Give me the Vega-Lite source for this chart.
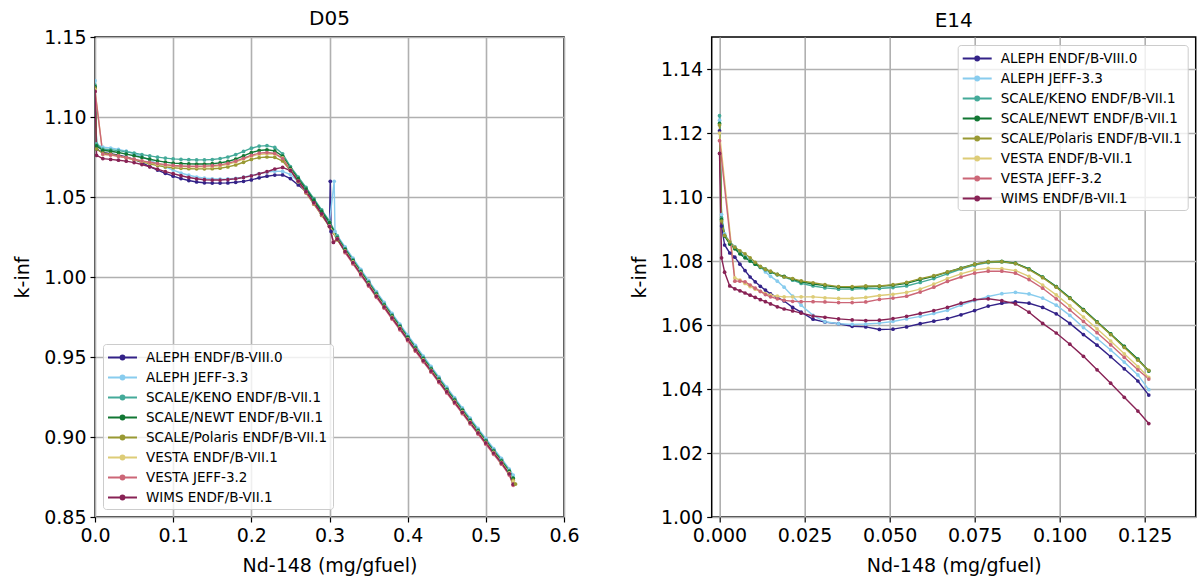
{
  "$schema": "https://vega.github.io/schema/vega-lite/v6.json",
  "padding": {"left": 12, "top": 8, "right": 5, "bottom": 5},
  "background": "white",
  "datasets": {
    "names": [
      {"k": "a", "name": "ALEPH ENDF/B-VIII.0"},
      {"k": "b", "name": "ALEPH JEFF-3.3"},
      {"k": "c", "name": "SCALE/KENO ENDF/B-VII.1"},
      {"k": "d", "name": "SCALE/NEWT ENDF/B-VII.1"},
      {"k": "e", "name": "SCALE/Polaris ENDF/B-VII.1"},
      {"k": "f", "name": "VESTA ENDF/B-VII.1"},
      {"k": "g", "name": "VESTA JEFF-3.2"},
      {"k": "h", "name": "WIMS ENDF/B-VII.1"}
    ],
    "d05": [
      {"x": 0, "a": 1.1186, "b": 1.1227, "c": 1.1200, "d": 1.1190, "e": 1.1180, "f": 1.1170, "g": 1.1160, "h": 1.1160},
      {"x": 0.002, "a": 1.0800, "b": 1.0830, "c": 1.0830, "d": 1.0820, "e": 1.0800, "h": 1.0760},
      {"x": 0.01, "a": 1.0778, "b": 1.0812, "c": 1.0800, "d": 1.0792, "e": 1.0775, "f": 1.0765, "g": 1.0768, "h": 1.0740},
      {"x": 0.02, "a": 1.0770, "b": 1.0806, "c": 1.0795, "d": 1.0786, "e": 1.0768, "f": 1.0762, "g": 1.0763, "h": 1.0735},
      {"x": 0.03, "a": 1.0762, "b": 1.0798, "c": 1.0790, "d": 1.0778, "e": 1.0758, "f": 1.0755, "g": 1.0755, "h": 1.0730},
      {"x": 0.04, "a": 1.0750, "b": 1.0786, "c": 1.0783, "d": 1.0768, "e": 1.0745, "f": 1.0745, "g": 1.0746, "h": 1.0724},
      {"x": 0.05, "a": 1.0735, "b": 1.0771, "c": 1.0775, "d": 1.0758, "e": 1.0732, "f": 1.0735, "g": 1.0736, "h": 1.0715},
      {"x": 0.06, "a": 1.0715, "b": 1.0752, "c": 1.0765, "d": 1.0747, "e": 1.0720, "f": 1.0724, "g": 1.0726, "h": 1.0703},
      {"x": 0.07, "a": 1.0690, "b": 1.0731, "c": 1.0757, "d": 1.0736, "e": 1.0708, "f": 1.0714, "g": 1.0717, "h": 1.0689},
      {"x": 0.08, "a": 1.0668, "b": 1.0708, "c": 1.0749, "d": 1.0726, "e": 1.0697, "f": 1.0705, "g": 1.0709, "h": 1.0674},
      {"x": 0.09, "a": 1.0648, "b": 1.0688, "c": 1.0743, "d": 1.0718, "e": 1.0688, "f": 1.0698, "g": 1.0702, "h": 1.0659},
      {"x": 0.10, "a": 1.0630, "b": 1.0668, "c": 1.0738, "d": 1.0712, "e": 1.0683, "f": 1.0693, "g": 1.0697, "h": 1.0646},
      {"x": 0.11, "a": 1.0615, "b": 1.0650, "c": 1.0735, "d": 1.0709, "e": 1.0679, "f": 1.0690, "g": 1.0694, "h": 1.0633},
      {"x": 0.12, "a": 1.0603, "b": 1.0636, "c": 1.0733, "d": 1.0707, "e": 1.0677, "f": 1.0688, "g": 1.0692, "h": 1.0622},
      {"x": 0.13, "a": 1.0594, "b": 1.0625, "c": 1.0732, "d": 1.0706, "e": 1.0676, "f": 1.0688, "g": 1.0692, "h": 1.0614},
      {"x": 0.14, "a": 1.0589, "b": 1.0618, "c": 1.0732, "d": 1.0706, "e": 1.0676, "f": 1.0688, "g": 1.0693, "h": 1.0608},
      {"x": 0.15, "a": 1.0587, "b": 1.0614, "c": 1.0734, "d": 1.0708, "e": 1.0677, "f": 1.0690, "g": 1.0696, "h": 1.0606},
      {"x": 0.16, "a": 1.0587, "b": 1.0612, "c": 1.0740, "d": 1.0713, "e": 1.0680, "f": 1.0695, "g": 1.0701, "h": 1.0606},
      {"x": 0.17, "a": 1.0588, "b": 1.0613, "c": 1.0750, "d": 1.0722, "e": 1.0688, "f": 1.0704, "g": 1.0710, "h": 1.0609},
      {"x": 0.18, "a": 1.0592, "b": 1.0617, "c": 1.0765, "d": 1.0737, "e": 1.0700, "f": 1.0718, "g": 1.0724, "h": 1.0614},
      {"x": 0.19, "a": 1.0598, "b": 1.0624, "c": 1.0785, "d": 1.0757, "e": 1.0717, "f": 1.0737, "g": 1.0742, "h": 1.0622},
      {"x": 0.20, "a": 1.0607, "b": 1.0634, "c": 1.0805, "d": 1.0777, "e": 1.0735, "f": 1.0755, "g": 1.0760, "h": 1.0632},
      {"x": 0.21, "a": 1.0620, "b": 1.0646, "c": 1.0818, "d": 1.0791, "e": 1.0746, "f": 1.0766, "g": 1.0774, "h": 1.0645},
      {"x": 0.22, "a": 1.0630, "b": 1.0656, "c": 1.0821, "d": 1.0795, "e": 1.0750, "f": 1.0770, "g": 1.0778, "h": 1.0658},
      {"x": 0.23, "a": 1.0637, "b": 1.0661, "c": 1.0810, "d": 1.0788, "e": 1.0748, "f": 1.0768, "g": 1.0772, "h": 1.0675},
      {"x": 0.24, "a": 1.0638, "b": 1.0660, "c": 1.0770, "d": 1.0755, "e": 1.0725, "f": 1.0745, "g": 1.0740, "h": 1.0685},
      {"x": 0.25, "a": 1.0615, "b": 1.0640, "c": 1.0690, "d": 1.0680, "e": 1.0665, "f": 1.0670, "g": 1.0668, "h": 1.0665},
      {"x": 0.26, "a": 1.0575, "b": 1.0595, "c": 1.0625, "d": 1.0615, "e": 1.0595, "f": 1.0600, "g": 1.0598, "h": 1.0600},
      {"x": 0.27, "a": 1.0535, "b": 1.0545, "c": 1.0560, "d": 1.0550, "e": 1.0525, "f": 1.0530, "g": 1.0528, "h": 1.0535},
      {"x": 0.28, "a": 1.0467, "b": 1.0480, "c": 1.0490, "d": 1.0480, "e": 1.0455, "f": 1.0460, "g": 1.0458, "h": 1.0465},
      {"x": 0.29, "a": 1.0397, "b": 1.0410, "c": 1.0420, "d": 1.0410, "e": 1.0385, "f": 1.0390, "g": 1.0388, "h": 1.0395},
      {"x": 0.30, "a": 1.0325, "b": 1.0345, "c": 1.0350, "d": 1.0340, "e": 1.0315, "f": 1.0320, "g": 1.0318, "h": 1.0315},
      {"x": 0.301, "a": 1.0598},
      {"x": 0.302, "a": 1.0285},
      {"x": 0.305, "g": 1.0220, "h": 1.0216},
      {"x": 0.306, "b": 1.0598},
      {"x": 0.307, "b": 1.0285},
      {"x": 0.31, "a": 1.0250, "b": 1.0258, "c": 1.0255, "d": 1.0245, "e": 1.0232, "f": 1.0236, "g": 1.0240, "h": 1.0236},
      {"x": 0.32, "a": 1.0180, "b": 1.0188, "c": 1.0178, "d": 1.0172, "e": 1.0158, "f": 1.0164, "g": 1.0152, "h": 1.0160},
      {"x": 0.33, "a": 1.0110, "b": 1.0118, "c": 1.0108, "d": 1.0102, "e": 1.0088, "f": 1.0094, "g": 1.0082, "h": 1.0090},
      {"x": 0.34, "a": 1.0040, "b": 1.0048, "c": 1.0038, "d": 1.0032, "e": 1.0018, "f": 1.0024, "g": 1.0012, "h": 1.0020},
      {"x": 0.35, "a": 0.9971, "b": 0.9979, "c": 0.9969, "d": 0.9963, "e": 0.9949, "f": 0.9955, "g": 0.9943, "h": 0.9951},
      {"x": 0.36, "a": 0.9901, "b": 0.9909, "c": 0.9899, "d": 0.9893, "e": 0.9879, "f": 0.9885, "g": 0.9873, "h": 0.9881},
      {"x": 0.37, "a": 0.9833, "b": 0.9841, "c": 0.9831, "d": 0.9825, "e": 0.9811, "f": 0.9817, "g": 0.9805, "h": 0.9813},
      {"x": 0.38, "a": 0.9765, "b": 0.9773, "c": 0.9763, "d": 0.9757, "e": 0.9743, "f": 0.9749, "g": 0.9737, "h": 0.9745},
      {"x": 0.39, "a": 0.9698, "b": 0.9706, "c": 0.9696, "d": 0.9690, "e": 0.9676, "f": 0.9682, "g": 0.9670, "h": 0.9678},
      {"x": 0.40, "a": 0.9630, "b": 0.9638, "c": 0.9628, "d": 0.9622, "e": 0.9608, "f": 0.9614, "g": 0.9602, "h": 0.9610},
      {"x": 0.41, "a": 0.9564, "b": 0.9572, "c": 0.9562, "d": 0.9556, "e": 0.9542, "f": 0.9548, "g": 0.9536, "h": 0.9544},
      {"x": 0.42, "a": 0.9498, "b": 0.9506, "c": 0.9496, "d": 0.9490, "e": 0.9476, "f": 0.9482, "g": 0.9470, "h": 0.9478},
      {"x": 0.43, "a": 0.9433, "b": 0.9441, "c": 0.9431, "d": 0.9425, "e": 0.9411, "f": 0.9417, "g": 0.9405, "h": 0.9413},
      {"x": 0.44, "a": 0.9368, "b": 0.9376, "c": 0.9366, "d": 0.9360, "e": 0.9346, "f": 0.9352, "g": 0.9340, "h": 0.9348},
      {"x": 0.45, "a": 0.9303, "b": 0.9311, "c": 0.9301, "d": 0.9295, "e": 0.9281, "f": 0.9287, "g": 0.9275, "h": 0.9283},
      {"x": 0.46, "a": 0.9238, "b": 0.9246, "c": 0.9236, "d": 0.9230, "e": 0.9216, "f": 0.9222, "g": 0.9210, "h": 0.9218},
      {"x": 0.47, "a": 0.9174, "b": 0.9182, "c": 0.9172, "d": 0.9166, "e": 0.9152, "f": 0.9158, "g": 0.9146, "h": 0.9154},
      {"x": 0.48, "a": 0.9110, "b": 0.9118, "c": 0.9108, "d": 0.9102, "e": 0.9088, "f": 0.9094, "g": 0.9082, "h": 0.9090},
      {"x": 0.49, "a": 0.9046, "b": 0.9054, "c": 0.9044, "d": 0.9038, "e": 0.9024, "f": 0.9030, "g": 0.9018, "h": 0.9026},
      {"x": 0.50, "a": 0.8983, "b": 0.8991, "c": 0.8981, "d": 0.8975, "e": 0.8961, "f": 0.8967, "g": 0.8955, "h": 0.8963},
      {"x": 0.51, "a": 0.8920, "b": 0.8928, "c": 0.8918, "d": 0.8912, "e": 0.8898, "f": 0.8904, "g": 0.8892, "h": 0.8900},
      {"x": 0.52, "a": 0.8858, "b": 0.8866, "c": 0.8856, "d": 0.8850, "e": 0.8836, "f": 0.8842, "g": 0.8830, "h": 0.8838},
      {"x": 0.53, "a": 0.8772, "b": 0.8800, "c": 0.8790, "d": 0.8785, "e": 0.8770, "f": 0.8776, "g": 0.8762, "h": 0.8770},
      {"x": 0.535, "b": 0.8762, "c": 0.8745, "d": 0.8742, "e": 0.8730, "f": 0.8722, "g": 0.8698, "h": 0.8705},
      {"x": 0.538, "e": 0.8706}
    ],
    "e14": [
      {"x": 0, "a": 1.1207, "b": 1.1240, "c": 1.1254, "d": 1.1230, "e": 1.1225, "f": 1.1200, "g": 1.1176, "h": 1.1136},
      {"x": 0.0006, "a": 1.0909, "b": 1.0945, "c": 1.0935, "d": 1.0930, "e": 1.0925, "h": 1.0810},
      {"x": 0.0015, "a": 1.0850, "b": 1.0885, "c": 1.0880, "d": 1.0878, "e": 1.0880, "h": 1.0765},
      {"x": 0.003, "a": 1.0825, "b": 1.0860, "c": 1.0855, "d": 1.0853, "e": 1.0860, "h": 1.0722},
      {"x": 0.0045, "a": 1.0812, "b": 1.0845, "c": 1.0840, "d": 1.0838, "e": 1.0843, "f": 1.0747, "g": 1.0737, "h": 1.0713},
      {"x": 0.006, "a": 1.0790, "b": 1.0828, "c": 1.0825, "d": 1.0822, "e": 1.0832, "f": 1.0740, "g": 1.0737, "h": 1.0707},
      {"x": 0.0075, "a": 1.0770, "b": 1.0815, "c": 1.0812, "d": 1.0810, "e": 1.0822, "f": 1.0730, "g": 1.0735, "h": 1.0700},
      {"x": 0.009, "a": 1.0750, "b": 1.0803, "c": 1.0800, "d": 1.0800, "e": 1.0810, "f": 1.0720, "g": 1.0725, "h": 1.0693},
      {"x": 0.0105, "a": 1.0735, "b": 1.0792, "c": 1.0790, "d": 1.0790, "e": 1.0796, "f": 1.0712, "g": 1.0715, "h": 1.0686},
      {"x": 0.012, "a": 1.0721, "b": 1.0781, "c": 1.0780, "d": 1.0782, "e": 1.0783, "f": 1.0705, "g": 1.0705, "h": 1.0679},
      {"x": 0.0135, "a": 1.0709, "b": 1.0766, "c": 1.0772, "d": 1.0775, "e": 1.0774, "f": 1.0698, "g": 1.0695, "h": 1.0673},
      {"x": 0.015, "a": 1.0697, "b": 1.0752, "c": 1.0765, "d": 1.0766, "e": 1.0768, "f": 1.0693, "g": 1.0688, "h": 1.0666},
      {"x": 0.017, "a": 1.0686, "b": 1.0737, "c": 1.0757, "d": 1.0758, "e": 1.0758, "f": 1.0690, "g": 1.0682, "h": 1.0657},
      {"x": 0.019, "a": 1.0675, "b": 1.0718, "c": 1.0750, "d": 1.0752, "e": 1.0750, "f": 1.0688, "g": 1.0677, "h": 1.0650},
      {"x": 0.0215, "a": 1.0655, "b": 1.0690, "c": 1.0740, "d": 1.0743, "e": 1.0745, "f": 1.0688, "g": 1.0674, "h": 1.0644},
      {"x": 0.024, "a": 1.0640, "b": 1.0662, "c": 1.0730, "d": 1.0735, "e": 1.0738, "f": 1.0688, "g": 1.0673, "h": 1.0637},
      {"x": 0.0275, "a": 1.0618, "b": 1.0630, "c": 1.0722, "d": 1.0728, "e": 1.0732, "f": 1.0688, "g": 1.0673, "h": 1.0628},
      {"x": 0.031, "a": 1.0609, "b": 1.0610, "c": 1.0716, "d": 1.0723, "e": 1.0726, "f": 1.0685, "g": 1.0672, "h": 1.0624},
      {"x": 0.035, "a": 1.0604, "b": 1.0604, "c": 1.0712, "d": 1.0718, "e": 1.0720, "f": 1.0683, "g": 1.0670, "h": 1.0619},
      {"x": 0.039, "a": 1.0596, "b": 1.0602, "c": 1.0712, "d": 1.0717, "e": 1.0720, "f": 1.0683, "g": 1.0670, "h": 1.0616},
      {"x": 0.043, "a": 1.0594, "b": 1.0603, "c": 1.0714, "d": 1.0719, "e": 1.0722, "f": 1.0686, "g": 1.0672, "h": 1.0614},
      {"x": 0.047, "a": 1.0586, "b": 1.0606, "c": 1.0714, "d": 1.0721, "e": 1.0722, "f": 1.0692, "g": 1.0680, "h": 1.0615},
      {"x": 0.051, "a": 1.0587, "b": 1.0611, "c": 1.0717, "d": 1.0724, "e": 1.0726, "f": 1.0696, "g": 1.0684, "h": 1.0620},
      {"x": 0.055, "a": 1.0594, "b": 1.0619, "c": 1.0722, "d": 1.0730, "e": 1.0733, "f": 1.0702, "g": 1.0690, "h": 1.0627},
      {"x": 0.059, "a": 1.0604, "b": 1.0627, "c": 1.0733, "d": 1.0742, "e": 1.0745, "f": 1.0712, "g": 1.0703, "h": 1.0636},
      {"x": 0.063, "a": 1.0612, "b": 1.0636, "c": 1.0745, "d": 1.0752, "e": 1.0754, "f": 1.0728, "g": 1.0718, "h": 1.0645},
      {"x": 0.067, "a": 1.0620, "b": 1.0646, "c": 1.0760, "d": 1.0765, "e": 1.0766, "f": 1.0745, "g": 1.0736, "h": 1.0655},
      {"x": 0.071, "a": 1.0632, "b": 1.0662, "c": 1.0775, "d": 1.0778, "e": 1.0777, "f": 1.0760, "g": 1.0750, "h": 1.0668},
      {"x": 0.075, "a": 1.0645, "b": 1.0676, "c": 1.0787, "d": 1.0790, "e": 1.0790, "f": 1.0772, "g": 1.0762, "h": 1.0679},
      {"x": 0.079, "a": 1.0659, "b": 1.0689, "c": 1.0795, "d": 1.0798, "e": 1.0797, "f": 1.0777, "g": 1.0768, "h": 1.0682},
      {"x": 0.083, "a": 1.0668, "b": 1.0698, "c": 1.0797, "d": 1.0799, "e": 1.0798, "f": 1.0776, "g": 1.0768, "h": 1.0676},
      {"x": 0.087, "a": 1.0672, "b": 1.0702, "c": 1.0792, "d": 1.0793, "e": 1.0792, "f": 1.0770, "g": 1.0762, "h": 1.0666},
      {"x": 0.091, "a": 1.0668, "b": 1.0697, "c": 1.0775, "d": 1.0775, "e": 1.0773, "f": 1.0752, "g": 1.0742, "h": 1.0640},
      {"x": 0.095, "a": 1.0655, "b": 1.0684, "c": 1.0750, "d": 1.0750, "e": 1.0748, "f": 1.0725, "g": 1.0715, "h": 1.0605},
      {"x": 0.099, "a": 1.0635, "b": 1.0662, "c": 1.0720, "d": 1.0720, "e": 1.0718, "f": 1.0694, "g": 1.0682, "h": 1.0575},
      {"x": 0.103, "a": 1.0605, "b": 1.0630, "c": 1.0685, "d": 1.0685, "e": 1.0683, "f": 1.0660, "g": 1.0647, "h": 1.0540},
      {"x": 0.107, "a": 1.0570, "b": 1.0592, "c": 1.0648, "d": 1.0648, "e": 1.0646, "f": 1.0625, "g": 1.0611, "h": 1.0502},
      {"x": 0.111, "a": 1.0537, "b": 1.0558, "c": 1.0610, "d": 1.0610, "e": 1.0608, "f": 1.0588, "g": 1.0576, "h": 1.0460},
      {"x": 0.115, "a": 1.0501, "b": 1.0522, "c": 1.0572, "d": 1.0572, "e": 1.0570, "f": 1.0550, "g": 1.0538, "h": 1.0418},
      {"x": 0.119, "a": 1.0463, "b": 1.0484, "c": 1.0533, "d": 1.0533, "e": 1.0530, "f": 1.0510, "g": 1.0499, "h": 1.0374},
      {"x": 0.123, "a": 1.0425, "b": 1.0444, "c": 1.0493, "d": 1.0493, "e": 1.0490, "f": 1.0470, "g": 1.0460, "h": 1.0331},
      {"x": 0.1262, "a": 1.0381, "b": 1.0398, "c": 1.0457, "d": 1.0456, "e": 1.0458, "f": 1.0436, "g": 1.0431, "h": 1.0292}
    ]
  },
  "config": {
    "font": "DejaVu Sans",
    "view": {"stroke": "black", "strokeWidth": 1.5},
    "axis": {
      "domain": false,
      "grid": true,
      "gridColor": "#b0b0b0",
      "gridWidth": 1.6,
      "tickColor": "black",
      "tickSize": 5,
      "tickWidth": 1.2,
      "labelFont": "DejaVu Sans",
      "labelFontSize": 19,
      "labelColor": "black",
      "labelPadding": 4,
      "labelFlush": false,
      "labelOverlap": false,
      "labelBound": false,
      "titleFont": "DejaVu Sans",
      "titleFontSize": 19,
      "titleFontWeight": "normal",
      "titleColor": "black"
    },
    "legend": {
      "title": null,
      "labelFont": "DejaVu Sans",
      "labelFontSize": 13.5,
      "labelColor": "black",
      "labelLimit": 400,
      "strokeColor": "#cccccc",
      "fillColor": "rgba(255,255,255,0.8)",
      "cornerRadius": 3,
      "padding": 5,
      "rowPadding": 5,
      "offset": 8,
      "labelOffset": 15,
      "symbolOffset": 6,
      "symbolType": "M-2,0H2M-0.26,0A0.26,0.26,0,1,1,0.26,0A0.26,0.26,0,1,1,-0.26,0",
      "symbolSize": 210,
      "symbolStrokeWidth": 2
    },
    "title": {"font": "DejaVu Sans", "fontSize": 20, "fontWeight": "normal", "color": "black", "offset": -1}
  },
  "spacing": 48.7,
  "resolve": {"scale": {"color": "independent"}, "legend": {"color": "independent"}},
  "hconcat": [
    {
      "title": "D05",
      "width": 469,
      "height": 480,
      "data": {"name": "d05"},
      "transform": [
        {"fold": ["a", "b", "c", "d", "e", "f", "g", "h"], "as": ["k", "v"]},
        {"filter": "datum.v != null"},
        {"lookup": "k", "from": {"data": {"name": "names"}, "key": "k", "fields": ["name"]}}
      ],
      "mark": {"type": "line", "strokeWidth": 1.4, "clip": true, "point": {"filled": true, "size": 14}},
      "encoding": {
        "x": {"field": "x", "type": "quantitative", "title": "Nd-148 (mg/gfuel)",
          "scale": {"domain": [0, 0.6], "nice": false, "zero": false},
          "axis": {"values": [0, 0.1, 0.2, 0.3, 0.4, 0.5, 0.6], "format": ".1f", "titlePadding": 11}},
        "y": {"field": "v", "type": "quantitative", "title": "k-inf",
          "scale": {"domain": [0.85, 1.15], "nice": false, "zero": false},
          "axis": {"values": [0.85, 0.9, 0.95, 1.0, 1.05, 1.1, 1.15], "format": ".2f", "titlePadding": 11}},
        "color": {"field": "name", "type": "nominal",
          "scale": {"domain": ["ALEPH ENDF/B-VIII.0", "ALEPH JEFF-3.3", "SCALE/KENO ENDF/B-VII.1", "SCALE/NEWT ENDF/B-VII.1", "SCALE/Polaris ENDF/B-VII.1", "VESTA ENDF/B-VII.1", "VESTA JEFF-3.2", "WIMS ENDF/B-VII.1"],
            "range": ["#332288", "#88CCEE", "#44AA99", "#117733", "#999933", "#DDCC77", "#CC6677", "#882255"]},
          "legend": {"orient": "bottom-left"}}
      }
    },
    {
      "title": {"text": "E14", "offset": 6},
      "width": 484,
      "height": 480,
      "data": {"name": "e14"},
      "transform": [
        {"fold": ["a", "b", "c", "d", "e", "f", "g", "h"], "as": ["k", "v"]},
        {"filter": "datum.v != null"},
        {"lookup": "k", "from": {"data": {"name": "names"}, "key": "k", "fields": ["name"]}}
      ],
      "mark": {"type": "line", "strokeWidth": 1.4, "clip": true, "point": {"filled": true, "size": 14}},
      "encoding": {
        "x": {"field": "x", "type": "quantitative", "title": "Nd-148 (mg/gfuel)",
          "scale": {"domain": [-0.0023, 0.14], "nice": false, "zero": false},
          "axis": {"values": [0, 0.025, 0.05, 0.075, 0.1, 0.125], "format": ".3f", "titlePadding": 11}},
        "y": {"field": "v", "type": "quantitative", "title": "k-inf",
          "scale": {"domain": [1.0, 1.15], "nice": false, "zero": false},
          "axis": {"values": [1.0, 1.02, 1.04, 1.06, 1.08, 1.1, 1.12, 1.14], "format": ".2f", "titlePadding": 11}},
        "color": {"field": "name", "type": "nominal",
          "scale": {"domain": ["ALEPH ENDF/B-VIII.0", "ALEPH JEFF-3.3", "SCALE/KENO ENDF/B-VII.1", "SCALE/NEWT ENDF/B-VII.1", "SCALE/Polaris ENDF/B-VII.1", "VESTA ENDF/B-VII.1", "VESTA JEFF-3.2", "WIMS ENDF/B-VII.1"],
            "range": ["#332288", "#88CCEE", "#44AA99", "#117733", "#999933", "#DDCC77", "#CC6677", "#882255"]},
          "legend": {"orient": "top-right"}}
      }
    }
  ]
}
